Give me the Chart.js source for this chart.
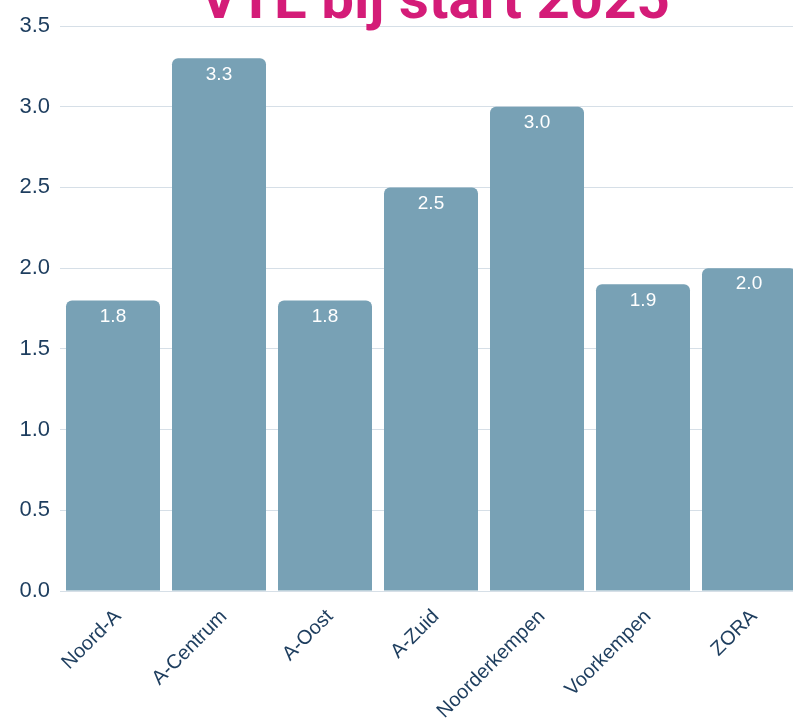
<!DOCTYPE html>
<html>
<head>
<meta charset="utf-8">
<script src="https://cdn.jsdelivr.net/npm/chart.js@4.4.1/dist/chart.umd.min.js"></script>
<style>
  html, body { margin: 0; padding: 0; background: #ffffff; overflow: hidden; }
  #wrap { width: 806px; height: 725px; position: relative; }
</style>
</head>
<body>
<div id="wrap"><canvas id="c" width="806" height="725"></canvas></div>
<script>
const titleText = 'VTE bij start 2025';
const categories = ['Noord-A', 'A-Centrum', 'A-Oost', 'A-Zuid', 'Noorderkempen', 'Voorkempen', 'ZORA'];
const values = [1.8, 3.3, 1.8, 2.5, 3.0, 1.9, 2.0];
const yTicks = [0, 0.5, 1.0, 1.5, 2.0, 2.5, 3.0, 3.5];

const FONT = '"Liberation Sans", Arial, sans-serif';
const TITLE_FONT = 'Roboto, "Liberation Sans", sans-serif';
const TICK_COLOR = '#1d3d5e';
const BAR_COLOR = '#78a1b5';

const titlePlugin = {
  id: 'cutTitle',
  afterDraw(chart) {
    const ctx = chart.ctx;
    const area = chart.chartArea;
    ctx.save();
    let size = 50;
    ctx.font = 'bold ' + size + 'px ' + TITLE_FONT;
    const w = ctx.measureText(titleText).width;
    size = size * 470 / w;
    ctx.font = 'bold ' + size + 'px ' + TITLE_FONT;
    ctx.fillStyle = '#d41c78';
    ctx.textAlign = 'center';
    ctx.textBaseline = 'alphabetic';
    ctx.fillText(titleText, (area.left + area.right) / 2 + 4, 18);
    ctx.restore();
  }
};

const valueLabels = {
  id: 'valueLabels',
  afterDatasetsDraw(chart) {
    const ctx = chart.ctx;
    const meta = chart.getDatasetMeta(0);
    ctx.save();
    ctx.font = '19px ' + FONT;
    ctx.fillStyle = '#ffffff';
    ctx.textAlign = 'center';
    ctx.textBaseline = 'middle';
    meta.data.forEach((bar, i) => {
      ctx.fillText(values[i].toFixed(1), bar.x, bar.y + 16);
    });
    ctx.restore();
  }
};

new Chart(document.getElementById('c'), {
  type: 'bar',
  data: {
    labels: categories,
    datasets: [{
      data: values,
      backgroundColor: BAR_COLOR,
      borderWidth: 0,
      borderRadius: 6,
      borderSkipped: 'start',
      categoryPercentage: 1.0,
      barPercentage: 94 / 106
    }]
  },
  options: {
    responsive: false,
    animation: false,
    layout: { padding: { top: 26, right: 4, left: 0, bottom: 0 } },
    plugins: {
      legend: { display: false },
      tooltip: { enabled: false },
      title: { display: false }
    },
    scales: {
      x: {
        grid: { display: false, drawTicks: false },
        border: { display: false },
        ticks: {
          color: TICK_COLOR,
          font: { family: FONT, size: 20 },
          maxRotation: 45,
          minRotation: 45,
          autoSkip: false,
          padding: 14,
          labelOffset: 5
        },
        afterFit(axis) { axis.height = 134; }
      },
      y: {
        min: 0,
        max: 3.5,
        afterBuildTicks(axis) { axis.ticks = yTicks.map(v => ({ value: v })); },
        grid: { color: '#d6dfe7', lineWidth: 1, drawTicks: false },
        border: { display: false },
        ticks: {
          color: TICK_COLOR,
          font: { family: FONT, size: 22 },
          padding: 10,
          callback: (v) => Number(v).toFixed(1)
        },
        afterFit(axis) { axis.width = 60; }
      }
    }
  },
  plugins: [titlePlugin, valueLabels]
});
</script>
</body>
</html>
